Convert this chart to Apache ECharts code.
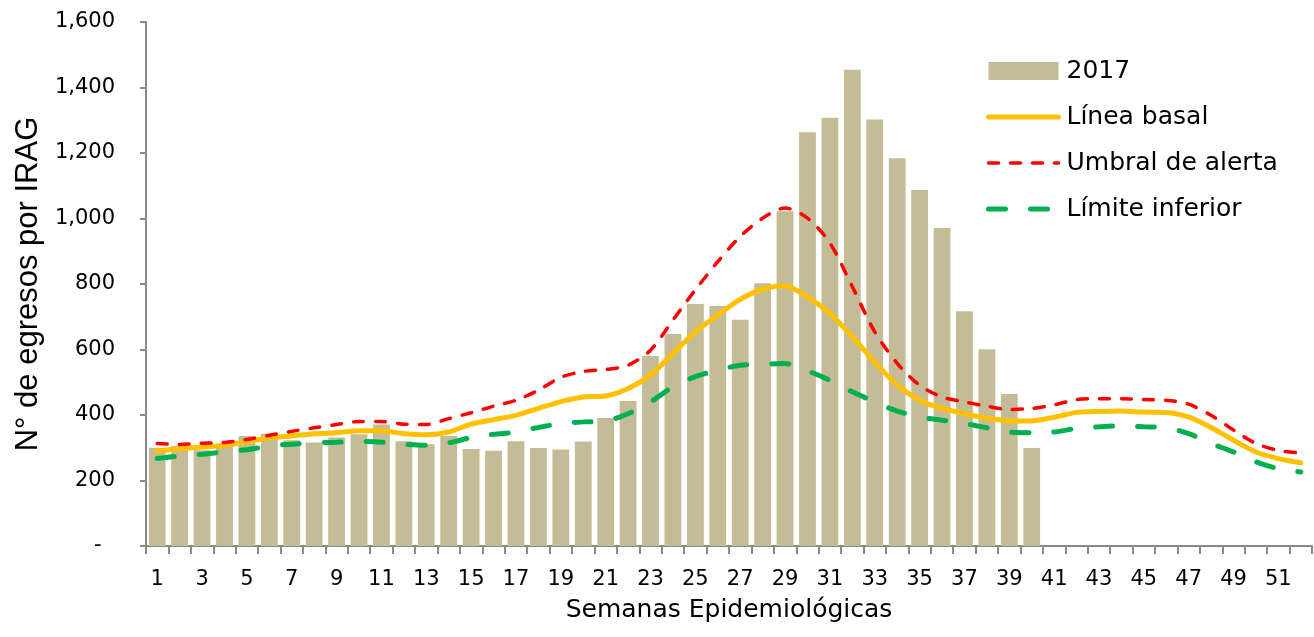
<!DOCTYPE html>
<html>
<head>
<meta charset="utf-8">
<script src="https://cdn.jsdelivr.net/npm/echarts@6/dist/echarts.min.js"></script>
<style>html,body{margin:0;padding:0;background:#fff;}#c{width:1314px;height:637px;}</style>
</head>
<body>
<div id="c"></div>
<script>
const weeks = Array.from({length: 52}, (_, i) => String(i + 1));
const casos2017 = [300, 305, 292, 308, 336, 343, 323, 316, 331, 341, 371, 320, 311, 336, 296, 291, 320, 299, 295, 319,
  391, 443, 580, 647, 739, 733, 691, 802, 1022, 1263, 1308, 1454, 1302, 1184, 1087, 971, 717, 601, 464, 299,
  null, null, null, null, null, null, null, null, null, null, null, null];
const lineaBasal = [290, 297, 302, 307, 318, 330, 336, 343, 346, 352, 352, 343, 340, 348, 372, 386, 399, 420, 441, 455,
  458, 481, 522, 588, 654, 705, 753, 784, 795, 761, 710, 639, 562, 491, 445, 420, 404, 391, 382, 382,
  393, 408, 411, 412, 409, 408, 394, 362, 323, 287, 267, 254];
const umbralAlerta = [313, 310, 314, 316, 325, 338, 350, 361, 371, 380, 380, 372, 371, 389, 407, 427, 445, 476, 515, 533,
  539, 552, 598, 690, 782, 868, 945, 1001, 1032, 1001, 925, 792, 654, 558, 491, 455, 440, 427, 417, 420,
  431, 447, 450, 450, 447, 445, 433, 399, 354, 313, 292, 284];
const limiteInferior = [267, 275, 280, 288, 294, 305, 311, 315, 317, 319, 317, 311, 308, 315, 331, 341, 348, 362, 374, 379,
  382, 404, 440, 486, 517, 537, 552, 555, 557, 535, 506, 471, 440, 412, 394, 384, 374, 361, 348, 346,
  348, 359, 364, 367, 364, 361, 343, 313, 287, 257, 236, 226];

const chart = echarts.init(document.getElementById('c'));
const axisGray = '#898989';
const hideSym = { opacity: 0, color: 'rgba(0,0,0,0)', borderWidth: 0 };
chart.setOption({
  animation: false,
  backgroundColor: '#ffffff',
  grid: { left: 146, right: 2, top: 22, bottom: 91 },
  legend: {
    left: 986, top: 57, orient: 'vertical', padding: 0,
    itemWidth: 70, itemHeight: 18, itemGap: 18,
    textStyle: { fontFamily: 'DejaVu Sans', fontSize: 25, color: '#000', lineHeight: 28, padding: [0, 0, 0, 3] },
    lineStyle: { width: 'inherit' },
    data: [
      { name: '2017', icon: 'rect' },
      { name: 'Línea basal', itemStyle: hideSym },
      { name: 'Umbral de alerta', itemStyle: hideSym },
      { name: 'Límite inferior', itemStyle: hideSym }
    ]
  },
  xAxis: {
    type: 'category', data: weeks, boundaryGap: true,
    name: 'Semanas Epidemiológicas', nameLocation: 'middle', nameGap: 52,
    nameTextStyle: { fontFamily: 'DejaVu Sans', fontSize: 25, color: '#000' },
    axisLine: { lineStyle: { color: axisGray, width: 2 } },
    axisTick: { show: true, interval: 0, length: 8, lineStyle: { color: axisGray, width: 2 } },
    axisLabel: { interval: 1, margin: 23, fontFamily: 'DejaVu Sans', fontSize: 21, color: '#000' }
  },
  yAxis: {
    type: 'value', min: 0, max: 1600, interval: 200,
    name: 'N° de egresos por IRAG', nameLocation: 'middle', nameGap: 96, nameRotate: 90,
    nameTextStyle: { fontFamily: 'Liberation Sans', fontSize: 31, color: '#000' },
    axisLine: { show: true, lineStyle: { color: axisGray, width: 2 } },
    axisTick: { show: true, length: 6, lineStyle: { color: axisGray, width: 2 } },
    splitLine: { show: false },
    axisLabel: {
      margin: 31, fontFamily: 'DejaVu Sans', fontSize: 21, color: '#000',
      formatter: v => v === 0 ? '-  ' : v.toLocaleString('en-US')
    }
  },
  series: [
    {
      name: '2017', type: 'bar', data: casos2017, barCategoryGap: '25%',
      itemStyle: { color: '#C4BC96' }
    },
    {
      name: 'Línea basal', type: 'line', data: lineaBasal, symbol: 'none', smooth: 0.25,
      lineStyle: { color: '#FFC000', width: 5, cap: 'round' }, itemStyle: { color: '#FFC000' }, z: 3
    },
    {
      name: 'Umbral de alerta', type: 'line', data: umbralAlerta, symbol: 'none', smooth: 0.3,
      lineStyle: { color: '#FF0000', width: 3.5, type: [10, 12], cap: 'round' }, itemStyle: { color: '#FF0000' }, z: 4
    },
    {
      name: 'Límite inferior', type: 'line', data: limiteInferior, symbol: 'none', smooth: 0.3,
      lineStyle: { color: '#00B050', width: 5, type: [17, 25], cap: 'round' }, itemStyle: { color: '#00B050' }, z: 4
    }
  ]
});
</script>
</body>
</html>
